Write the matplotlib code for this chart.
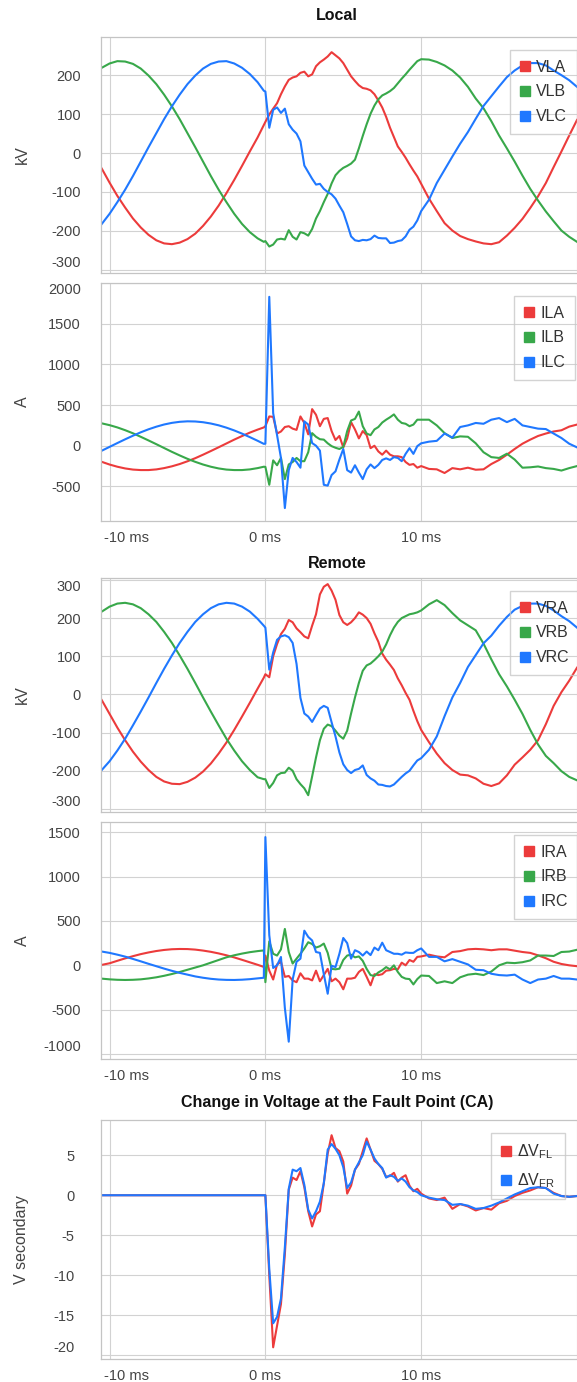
import numpy as np
import matplotlib
matplotlib.use('Agg')
import matplotlib.pyplot as plt
from matplotlib.lines import Line2D
from matplotlib.transforms import ScaledTranslation

plt.rcParams['font.family'] = ['Liberation Sans', 'DejaVu Sans']

# sample times in ms: every 0.5 ms before the fault, 0.25 ms during it, 0.5 ms after 10 ms
t_pre = [-10.5, -10, -9.5, -9, -8.5, -8, -7.5, -7, -6.5, -6, -5.5, -5, -4.5, -4, -3.5, -3,
         -2.5, -2, -1.5, -1, -0.5, -0.1]
t_post = [0, 0.25, 0.5, 0.75, 1, 1.25, 1.5, 1.75, 2, 2.25, 2.5, 2.75, 3, 3.25, 3.5, 3.75,
          4, 4.25, 4.5, 4.75, 5, 5.25, 5.5, 5.75, 6, 6.25, 6.5, 6.75, 7, 7.25, 7.5, 7.75,
          8, 8.25, 8.5, 8.75, 9, 9.25, 9.5, 9.75,
          10, 10.5, 11, 11.5, 12, 12.5, 13, 13.5, 14, 14.5, 15, 15.5, 16, 16.5, 17, 17.5,
          18, 18.5, 19, 19.5, 20]
t = np.array(t_pre + t_post)

# Local voltages (kV)
vla = [-40, -76, -110, -140, -168, -191, -210, -224, -232, -234, -230, -221, -207, -187, -163, -135,
       -103, -69, -33, 4, 40, 72] + \
      [80, 99, 114, 128, 151, 171, 188, 194, 197, 206, 209, 197, 202, 223, 233, 240,
       248, 259, 251, 243, 231, 214, 197, 185, 174, 167, 165, 161, 151, 135, 117, 93,
       65, 41, 17, 3, -12, -29, -45, -60,
       -79, -117, -149, -180, -199, -213, -221, -227, -232, -234, -229, -212, -192, -169, -141, -111,
       -77, -36, 4, 45, 85]
vlb = [219, 230, 236, 235, 229, 217, 199, 177, 150, 120, 87, 51, 15, -22, -59, -94,
       -126, -156, -182, -203, -219, -228] + \
      [-226, -240, -235, -222, -220, -222, -198, -215, -222, -203, -206, -212, -195, -168, -149, -126,
       -105, -78, -57, -46, -38, -33, -27, -17, 12, 44, 74, 101, 122, 138, 148, 153,
       159, 167, 179, 191, 202, 214, 225, 236,
       241, 240, 234, 225, 212, 194, 170, 140, 115, 82, 45, 12, -22, -58, -92, -122,
       -150, -175, -199, -215, -228]
vlc = [-182, -156, -126, -94, -59, -22, 15, 51, 87, 120, 150, 177, 199, 217, 229, 235,
       236, 230, 219, 203, 182, 160] + \
      [158, 65, 111, 117, 103, 114, 74, 60, 50, 30, -32, -49, -66, -81, -79, -92,
       -100, -106, -117, -135, -152, -182, -214, -224, -226, -223, -224, -221, -212, -218, -219, -219,
       -231, -230, -226, -224, -214, -197, -189, -173,
       -149, -120, -77, -43, -9, 24, 54, 88, 121, 146, 171, 195, 212, 225, 231, 231,
       225, 212, 200, 187, 170]

# Local currents (A)
ila = [-198, -231, -258, -279, -293, -299, -299, -291, -275, -253, -225, -191, -153, -110, -65, -19,
       28, 75, 119, 161, 198, 225] + \
      [240, 360, 355, 150, 175, 230, 240, 210, 195, 360, 280, 140, 450, 380, 240, 330,
       340, 180, 70, 120, -20, 90, 290, 200, 90, 180, 130, -30, 0, -70, -110, -60,
       -110, -130, -130, -140, -200, -235, -225, -270,
       -250, -285, -290, -335, -275, -290, -270, -295, -290, -225, -175, -110, -40, 25, 75, 120,
       150, 175, 190, 235, 260]
ilb = [275, 253, 225, 191, 153, 110, 65, 19, -28, -75, -119, -161, -198, -231, -258, -279,
       -293, -299, -299, -291, -275, -258] + \
      [-260, -480, -180, -240, -150, -410, -230, -200, -150, -190, -190, -80, 155, 110, 80, 75,
       30, -5, -25, -40, -15, 180, 310, 330, 420, 240, 150, 130, 200, 230, 285, 320,
       350, 385, 320, 280, 270, 240, 260, 320,
       320, 320, 250, 155, 95, 115, 110, 30, -80, -140, -150, -98, -170, -270, -265, -255,
       -275, -285, -305, -275, -250]
ilc = [-61, -14, 33, 79, 123, 165, 202, 234, 261, 281, 294, 300, 298, 289, 273, 251,
       222, 188, 149, 106, 61, 23] + \
      [25, 1830, 400, 130, -150, -766, -300, -150, -200, -270, 300, 260, 33, 0, -60, -480,
       -490, -360, -315, -170, -40, -300, -330, -240, -330, -410, -290, -230, -275, -235, -175, -155,
       -175, -140, -150, -190, -100, -30, -100, -5,
       30, 50, 60, 150, 100, 230, 250, 280, 270, 320, 340, 290, 330, 250, 230, 210,
       205, 150, 95, 25, -20]

# Remote voltages (kV)
vra = [-15, -51, -87, -120, -150, -176, -198, -216, -228, -234, -235, -229, -218, -202, -181, -155,
       -126, -93, -58, -22, 15, 44] + \
      [53, 45, 100, 132, 158, 172, 195, 189, 173, 163, 152, 147, 180, 210, 262, 282,
       289, 272, 248, 208, 189, 182, 189, 200, 215, 209, 200, 185, 160, 138, 107, 91,
       78, 64, 42, 24, 4, -14, -43, -70,
       -93, -125, -155, -180, -198, -210, -212, -220, -234, -240, -233, -212, -184, -165, -145, -120,
       -78, -30, 6, 36, 70]
vrb = [217, 230, 238, 240, 236, 226, 210, 190, 164, 135, 102, 67, 30, -8, -45, -81,
       -116, -147, -175, -198, -217, -222] + \
      [-222, -245, -232, -212, -206, -205, -192, -200, -222, -235, -246, -264, -215, -165, -120, -90,
       -79, -83, -95, -108, -116, -95, -50, -8, 30, 62, 76, 81, 90, 100, 112, 131,
       155, 175, 190, 200, 205, 210, 212, 215,
       220, 236, 247, 234, 213, 194, 181, 168, 133, 92, 53, 21, -14, -51, -93, -131,
       -161, -180, -201, -216, -225]
vrc = [-198, -175, -147, -116, -81, -45, -8, 30, 67, 102, 135, 164, 190, 210, 226, 236,
       240, 238, 230, 217, 198, 180] + \
      [175, 65, 110, 143, 152, 155, 150, 135, 80, -9, -50, -58, -72, -54, -37, -30,
       -35, -73, -110, -152, -183, -198, -206, -198, -195, -186, -211, -220, -226, -236, -237, -240,
       -241, -236, -226, -216, -207, -200, -186, -173,
       -167, -145, -110, -57, -8, 30, 72, 103, 134, 154, 180, 203, 222, 232, 238, 238,
       232, 220, 205, 192, 175]

# Remote currents (A)
ira = [5, 23, 51, 78, 103, 126, 145, 161, 173, 181, 184, 183, 177, 166, 152, 134,
       113, 89, 62, 34, 6, -18] + \
      [110, -60, -160, 10, 40, -130, -120, -170, -190, -90, -150, -150, -170, -60, -180, -110,
       -40, -180, -150, -190, -270, -150, -150, -140, -75, -40, -130, -225, -100, -110, -100, -60,
       -55, -40, -45, 30, 0, 60, 40, 95,
       100, 120, 100, 90, 150, 160, 180, 185, 180, 170, 180, 180, 165, 150, 140, 112,
       80, 40, 15, 0, -10]
irb = [-150, -158, -163, -165, -163, -158, -148, -135, -118, -98, -75, -50, -25, 0, 30, 60,
       90, 113, 132, 148, 160, 168] + \
      [-190, 270, 130, 110, 180, 410, 150, 20, 75, 130, 190, 260, 240, 200, 215, 245,
       140, -40, -45, -38, 60, 110, 120, 90, 100, 50, -40, -110, -120, -80, -55, -20,
       -45, 0, -75, -130, -150, -155, -215, -155,
       -115, -120, -200, -180, -200, -135, -105, -95, -110, -70, 0, 30, 25, 35, 55, 110,
       110, 105, 150, 155, 175]
irc = [155, 140, 120, 98, 72, 45, 17, -10, -37, -62, -85, -105, -125, -140, -152, -160,
       -164, -165, -162, -156, -147, -140] + \
      [1444, 340, -30, 0, 94, -480, -860, -160, 40, 75, 390, 320, 280, 150, 140, -100,
       -320, -5, -20, 130, 308, 250, 75, 170, 150, 110, 155, 115, 200, 170, 255, 170,
       150, 130, 130, 120, 145, 140, 140, 170,
       190, 95, 95, 45, 70, 40, 10, -50, -55, -95, -110, -115, -105, -160, -200, -160,
       -150, -120, -150, -150, -160]

# Change in voltage at the fault point (V secondary)
dvfl = [0, 0, 0, 0, 0, 0, 0, 0, 0, 0, 0, 0, 0, 0, 0, 0, 0, 0, 0, 0, 0, 0] + \
       [0, -10.0, -19.0, -16.3, -13.6, -7.4, 0.7, 2.2, 1.9, 3.0, 1.0, -2.0, -3.9, -2.4, -2.0, 1.5,
        5.2, 7.5, 5.9, 5.5, 4.2, 0.2, 1.2, 3.2, 3.9, 5.5, 7.1, 5.7, 4.3, 3.9, 3.3, 2.3,
        2.4, 2.8, 1.7, 2.2, 2.5, 1.2, 0.5, 0.8,
        0.2, -0.4, -0.6, -0.3, -1.7, -1.1, -1.4, -1.9, -1.6, -1.8, -1.0, -0.7, -0.1, 0.3, 0.6, 1.0,
        0.9, 0.3, -0.1, -0.2, -0.1]
dvfr = [0, 0, 0, 0, 0, 0, 0, 0, 0, 0, 0, 0, 0, 0, 0, 0, 0, 0, 0, 0, 0, 0] + \
       [0, -9.2, -16.0, -15.2, -12.9, -6.5, 0.8, 3.2, 3.0, 3.4, 1.3, -1.8, -2.9, -2.0, -0.8, 1.5,
        5.7, 6.4, 5.8, 5.0, 3.5, 0.9, 1.6, 3.2, 4.1, 5.0, 6.7, 5.7, 4.6, 3.9, 3.4, 2.2,
        2.5, 2.3, 1.8, 2.1, 1.7, 1.0, 0.6, 0.4,
        0.0, -0.3, -0.5, -0.6, -1.2, -1.1, -1.3, -1.7, -1.6, -1.3, -0.9, -0.4, 0.1, 0.5, 0.9, 1.0,
        0.9, 0.2, -0.1, -0.2, -0.1]

# the 20 ms gridline sits at the right edge; its label falls outside the picture
x_ticks = [-10, 0, 10, 20]
x_labels = ['-10 ms', '0 ms', '10 ms', '']

RED, GREEN, BLUE = '#ec3b3b', '#38a84a', '#1f78ff'
GRID = '#d2d2d2'
W, H = 577, 1382

fig = plt.figure(figsize=(W / 100, H / 100), dpi=100)


def panel(top, bottom, series, names, colors, ylim, yticks, edge, show_x, leg_xy, ylabel,
          ypad=14.4):
    ax = fig.add_axes([101 / W, 1 - bottom / H, 476 / W, (bottom - top) / H])
    for y, c in zip(series, colors):
        ax.plot(t, y, color=c, lw=1.5, solid_joinstyle='round')
    ax.set_xlim(-10.55, 19.7)
    ax.set_ylim(*ylim)
    ax.set_xticks(x_ticks)
    ax.set_yticks(yticks)
    ax.set_yticklabels([str(v) for v in yticks])
    ax.grid(True, color=GRID, lw=0.8)
    ax.set_axisbelow(True)
    for s in ['top', 'left', 'bottom']:
        ax.spines[s].set_color('#c4c4c4')
        ax.spines[s].set_linewidth(0.9)
    ax.spines['right'].set_visible(False)
    ax.tick_params(length=0, labelsize=10.5, labelcolor='#444444')
    ax.tick_params(axis='y', pad=ypad)
    ax.tick_params(axis='x', pad=7)
    if show_x:
        ax.set_xticklabels(x_labels)
        first = ax.get_xticklabels()[0]
        first.set_transform(first.get_transform() +
                            ScaledTranslation(0.17, 0, fig.dpi_scale_trans))
    else:
        ax.set_xticklabels([])
    labels = ax.get_yticklabels()
    for i, va in edge.items():
        labels[i].set_va(va)

    handles = [Line2D([], [], ls='none', marker='s', ms=6.5, mfc=c, mec=c) for c in colors]
    ax.legend(handles, names, loc='upper left',
              bbox_to_anchor=(leg_xy[0] / W, 1 - leg_xy[1] / H),
              bbox_transform=fig.transFigure, fancybox=False, facecolor='none',
              edgecolor='#c8c8c8', fontsize=11.5, labelcolor='#333333',
              handlelength=0.7, handletextpad=0.35, labelspacing=0.62,
              borderpad=0.6, borderaxespad=0)
    fig.text(22 / W, 1 - (top + bottom) / 2 / H, ylabel, rotation=90, ha='center',
             va='center', fontsize=11.5, color='#444444')
    return ax


def title(y, text):
    fig.text(337 / W, 1 - y / H, text, ha='center', va='center', fontsize=11.5,
             fontweight='bold', color='#111111')


title(15, 'Local')
panel(37, 273, [vla, vlb, vlc], ['VLA', 'VLB', 'VLC'], [RED, GREEN, BLUE],
      (-308, 298), [-300, -200, -100, 0, 100, 200], {0: 'bottom'}, False, (510, 50), 'kV')
panel(283, 521, [ila, ilb, ilc], ['ILA', 'ILB', 'ILC'], [RED, GREEN, BLUE],
      (-925, 2000), [-500, 0, 500, 1000, 1500, 2000], {5: 'top'}, True, (514, 296), 'A')

title(563, 'Remote')
panel(578, 812, [vra, vrb, vrc], ['VRA', 'VRB', 'VRC'], [RED, GREEN, BLUE],
      (-308, 305), [-300, -200, -100, 0, 100, 200, 300], {0: 'bottom', 6: 'top'}, False,
      (510, 591), 'kV')
panel(822, 1059, [ira, irb, irc], ['IRA', 'IRB', 'IRC'], [RED, GREEN, BLUE],
      (-1055, 1614), [-1000, -500, 0, 500, 1000, 1500], {0: 'bottom'}, True, (514, 835), 'A')

title(1103, 'Change in Voltage at the Fault Point (CA)')
panel(1120, 1359, [dvfl, dvfr], ['ΔV$_{\\mathregular{FL}}$', 'ΔV$_{\\mathregular{FR}}$'],
      [RED, BLUE], (-20.46, 9.4), [-20, -15, -10, -5, 0, 5], {0: 'bottom'}, True,
      (491, 1133), 'V secondary', ypad=19)

fig.savefig('out.png', dpi=100)
